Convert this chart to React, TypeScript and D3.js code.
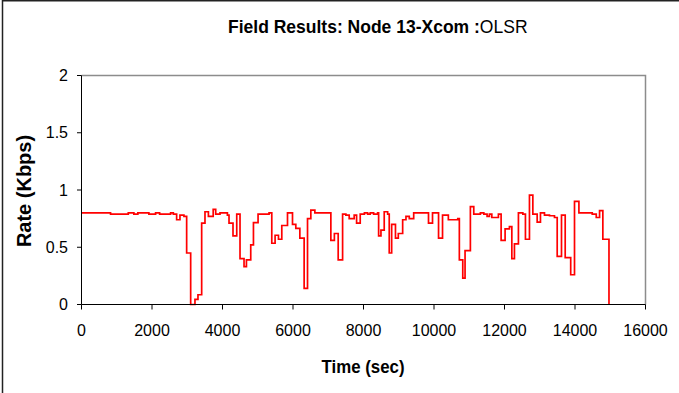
import React from "react";
import * as d3 from "d3";

const times = [
  0, 824, 1327, 1486, 1599, 1912, 2102, 2216, 2528, 2605, 2699, 2793, 2906, 2983,
  3097, 3219, 3304, 3409, 3503, 3600, 3736, 3807, 3929, 4139, 4185, 4298, 4404,
  4497, 4611, 4679, 4801, 4878, 5009, 5321, 5398, 5492, 5588, 5682, 5844, 5986,
  6080, 6194, 6316, 6412, 6506, 6620, 7074, 7174, 7282, 7407, 7500, 7594, 7736,
  7804, 7907, 8026, 8117, 8191, 8287, 8401, 8429, 8495, 8588, 8685, 8730, 8799,
  8907, 8987, 9111, 9205, 9299, 9424, 9844, 9958, 10129, 10242, 10407, 10674,
  10719, 10816, 10881, 11032, 11128, 11316, 11413, 11506, 11572, 11640, 11827,
  11904, 12017, 12140, 12208, 12282, 12395, 12520, 12594, 12708, 12804, 12927,
  13020, 13134, 13276, 13418, 13495, 13617, 13722, 13878, 13986, 14111, 14489,
  14603, 14697, 14790, 14964,
];
const rates = [
  0.8, 0.79, 0.8, 0.79, 0.8, 0.79, 0.8, 0.79, 0.8, 0.79, 0.74, 0.78, 0.77, 0.45,
  0.0, 0.045, 0.085, 0.71, 0.81, 0.77, 0.83, 0.79, 0.8, 0.78, 0.71, 0.6, 0.79,
  0.4, 0.33, 0.39, 0.52, 0.715, 0.79, 0.8, 0.535, 0.605, 0.57, 0.69, 0.8, 0.7,
  0.665, 0.58, 0.14, 0.75, 0.825, 0.8, 0.56, 0.62, 0.39, 0.79, 0.78, 0.75, 0.78,
  0.71, 0.79, 0.8, 0.79, 0.8, 0.79, 0.8, 0.6, 0.65, 0.81, 0.79, 0.45, 0.7,
  0.58, 0.62, 0.74, 0.77, 0.75, 0.8, 0.71, 0.8, 0.58, 0.78, 0.74, 0.75,
  0.39, 0.23, 0.47, 0.855, 0.79, 0.8, 0.79, 0.77, 0.79, 0.76, 0.79,
  0.56, 0.66, 0.68, 0.4, 0.53, 0.8, 0.79, 0.57, 0.955, 0.79, 0.72,
  0.8, 0.78, 0.775, 0.76, 0.42, 0.78, 0.41, 0.26, 0.9, 0.8, 0.79,
  0.76, 0.82, 0.57, 0,
];
const xTicks = [0, 2000, 4000, 6000, 8000, 10000, 12000, 14000, 16000];
const yTicks = [0, 0.5, 1, 1.5, 2];
const titleBold = "Field Results: Node 13-Xcom :";
const titleRegular = "OLSR";
const xTitle = "Time (sec)";
const yTitle = "Rate (Kbps)";

export default function App() {
  const W = 679;
  const H = 393;
  const x = d3.scaleLinear().domain([0, 16000]).range([81.5, 645.5]);
  const y = d3.scaleLinear().domain([0, 2]).range([304.5, 75.5]);
  const pts: [number, number][] = times.map((t, i) => [t, rates[i]]);
  const line = d3
    .line<[number, number]>()
    .x((d) => x(d[0]))
    .y((d) => y(d[1]))
    .curve(d3.curveStepAfter);
  const font = "'Liberation Sans', Arial, sans-serif";
  return (
    <svg
      width={W}
      height={H}
      style={{ position: "absolute", left: 0, top: 0, background: "#fff" }}
      fontFamily={font}
    >
      <rect x={0} y={0} width={W} height={H} fill="#fff" />
      {/* outer chart frame */}
      <path d={`M2.5,${H + 5} V0.75 H${W + 5}`} fill="none" stroke="#222" strokeWidth={1.5} />
      {/* plot frame */}
      <path d={`M81.5,75.5 H645.5 V304.5`} fill="none" stroke="#8c8c8c" strokeWidth={1.5} />
      {/* data */}
      <path d={line(pts) || ""} fill="none" stroke="#ff0000" strokeWidth={1.7} strokeLinejoin="miter" />
      {/* axes */}
      <line x1={81.5} y1={75.5} x2={81.5} y2={304.5} stroke="#000" strokeWidth={1} />
      <line x1={81.5} y1={304.5} x2={645.5} y2={304.5} stroke="#000" strokeWidth={1} />
      {yTicks.map((v) => (
        <g key={"y" + v}>
          <line x1={77} x2={81.5} y1={y(v)} y2={y(v)} stroke="#000" />
          <text x={68} y={y(v)} dy="0.35em" textAnchor="end" fontSize={16}>
            {String(v)}
          </text>
        </g>
      ))}
      {xTicks.map((v) => (
        <g key={"x" + v}>
          <line x1={x(v)} x2={x(v)} y1={304.5} y2={309.5} stroke="#000" />
          <text x={x(v)} y={336} textAnchor="middle" fontSize={16}>
            {String(v)}
          </text>
        </g>
      ))}
      <text
        x={363}
        y={373}
        textAnchor="middle"
        fontSize={18}
        fontWeight="bold"
        textLength={83}
        lengthAdjust="spacingAndGlyphs"
      >
        {xTitle}
      </text>
      <text
        transform="translate(31,191) rotate(-90)"
        textAnchor="middle"
        fontSize={20}
        fontWeight="bold"
      >
        {yTitle}
      </text>
      <text x={228} y={33} fontSize={17.5}>
        <tspan fontWeight="bold">{titleBold}</tspan>
        <tspan>{titleRegular}</tspan>
      </text>
    </svg>
  );
}
